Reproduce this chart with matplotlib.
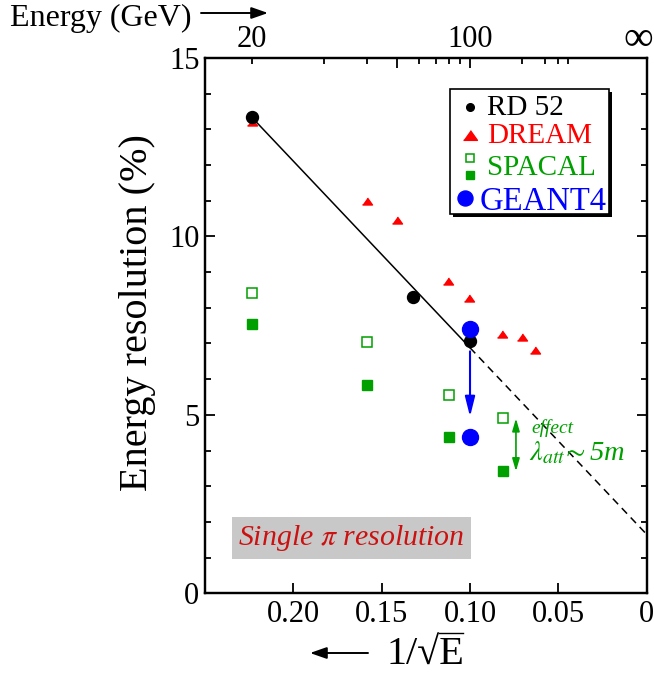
import matplotlib
matplotlib.use("Agg")
import matplotlib.pyplot as plt
import numpy as np
from matplotlib.ticker import MultipleLocator
from matplotlib.patches import Rectangle, FancyArrowPatch
from matplotlib.lines import Line2D
from matplotlib.textpath import TextPath
from matplotlib.font_manager import FontProperties

plt.rcParams["font.family"] = ["Liberation Serif", "DejaVu Serif"]
plt.rcParams["mathtext.fontset"] = "stix"

# data (x = 1/sqrt(E))
rd52_x = [0.2236, 0.1322, 0.1]
rd52_y = [13.35, 8.29, 7.06]

dream_x = [0.2236, 0.1582, 0.1412, 0.1123, 0.1004, 0.0818, 0.0708, 0.0632]
dream_y = [13.2, 11.0, 10.45, 8.76, 8.27, 7.26, 7.18, 6.82]

spacal_x = [0.2236, 0.1581, 0.1118, 0.0816]
spacal_open_y = [8.41, 7.03, 5.56, 4.92]
spacal_filled_y = [7.55, 5.83, 4.39, 3.44]

geant4_x = [0.1, 0.1]
geant4_y = [7.41, 4.39]

# straight line fit through RD52 points
fit_intercept = 1.65
fit_slope = 52.3

top_major_E = [50, 100]
top_minor_E = [20, 30, 40, 60, 70, 80, 90, 200, 300, 400, 500]

bottom_ticks = [0.20, 0.15, 0.10, 0.05, 0.0]
bottom_labels = ["0.20", "0.15", "0.10", "0.05", "0"]

RED = "#ff0000"
GREEN = "#00a000"
BLUE = "#0000ff"

W, H = 654, 674


def fx(px):
    return px / W


def fy(py):
    return 1 - py / H


fig = plt.figure(figsize=(W / 100, H / 100), dpi=100)
ax = fig.add_axes([fx(205), fy(593.3), (646.7 - 205) / W, (593.3 - 58) / H])

tri = [(-1, -0.7), (1, -0.7), (0, 0.7)]

# fit line: solid over data, dashed extrapolation
xs = np.array([0.2236, 0.1])
ax.plot(xs, fit_intercept + fit_slope * xs, color="k", lw=1.1, zorder=2)
xd = np.array([0.1, 0.0])
ax.plot(xd, fit_intercept + fit_slope * xd, color="k", lw=1.1,
        ls=(0, (5, 3.5)), zorder=2)

ax.plot(dream_x, dream_y, ls="none", marker=tri, ms=7.2, color=RED, zorder=3)
ax.plot(spacal_x, spacal_open_y, ls="none", marker="s", ms=6.6, mfc="white",
        mec=GREEN, mew=1.1, zorder=3)
ax.plot(spacal_x, spacal_filled_y, ls="none", marker="s", ms=7.0, color=GREEN,
        zorder=3)
ax.plot(rd52_x, rd52_y, ls="none", marker="o", ms=8.6, color="k", zorder=4)
ax.plot(geant4_x, geant4_y, ls="none", marker="o", ms=11.5, color=BLUE, zorder=5)

# GEANT4 arrow
ax.annotate("", xy=(0.1, 4.95), xytext=(0.1, 6.78),
            arrowprops=dict(arrowstyle="-|>,head_length=1.2,head_width=0.3",
                            mutation_scale=10, color=BLUE, lw=1.5,
                            shrinkA=0, shrinkB=0))

# attenuation effect arrow
ax.annotate("", xy=(0.074, 3.42), xytext=(0.074, 4.9),
            arrowprops=dict(arrowstyle="<|-|>,head_length=0.75,head_width=0.22",
                            mutation_scale=10, color=GREEN, lw=1.2,
                            shrinkA=0, shrinkB=0))
ax.text(0.0655, 4.48, "effect", color=GREEN, fontsize=14, style="italic")
ax.text(0.0665, 3.73, r"$\lambda_{att}\!\sim$5m", color=GREEN, fontsize=20.5,
        style="italic")

ax.text(0.1672, 1.354, r"Single $\pi$ resolution", color="#cc1111",
        fontsize=21.5, style="italic", ha="center", va="baseline",
        bbox=dict(boxstyle="square,pad=0.2", fc="#c8c8c8", ec="none"))

ax.set_xlim(0.25, 0)
ax.set_ylim(0, 15)
ax.set_xticks(bottom_ticks, bottom_labels)
ax.set_yticks([0, 5, 10, 15])
ax.yaxis.set_minor_locator(MultipleLocator(1))
ax.tick_params(axis="x", direction="in", length=7, width=1.3, labelsize=22,
               pad=5)
ax.tick_params(axis="y", which="both", direction="in", left=True, right=True,
               labelsize=22, pad=4, width=1.3)
ax.tick_params(axis="y", which="major", length=7)
ax.tick_params(axis="y", which="minor", length=4.5)
for s in ax.spines.values():
    s.set_linewidth(1.6)

# top energy axis
ax2 = ax.twiny()
ax2.set_xlim(ax.get_xlim())
ax2.set_xticks(1 / np.sqrt(top_major_E), ["", "100"])
ax2.set_xticks(1 / np.sqrt(top_minor_E),
               ["20"] + [""] * (len(top_minor_E) - 1), minor=True)
ax2.tick_params(which="both", direction="in", labelsize=22, pad=3, width=1.3)
ax2.tick_params(which="major", length=7)
ax2.tick_params(which="minor", length=4.5)
for s in ax2.spines.values():
    s.set_linewidth(1.6)
fig.text(fx(638), fy(40), "\u221e", fontsize=30, ha="center", va="center")

# axis titles and arrows
fig.text(fx(138), fy(313), "Energy resolution (%)", fontsize=29,
         rotation=90, ha="center", va="center")

# 1/sqrt(E): plain radical glyph plus an overline over the E
xl_size = 29
xl_x, xl_base = 386, 664
fig.text(fx(xl_x), fy(xl_base), "1/\u221aE", fontsize=xl_size,
         ha="left", va="baseline")
fp = FontProperties(family="Liberation Serif", size=xl_size)
k = 100 / 72
bb_rad = TextPath((0, 0), "1/\u221a", prop=fp).get_extents()
bb_all = TextPath((0, 0), "1/\u221aE", prop=fp).get_extents()
y_bar = xl_base - bb_rad.y1 * k
fig.add_artist(Line2D([fx(xl_x + bb_rad.x1 * k - 0.5), fx(xl_x + bb_all.x1 * k + 1)],
                      [fy(y_bar + 0.6), fy(y_bar + 0.6)],
                      transform=fig.transFigure, color="k", lw=1.0))

fig.text(fx(10), fy(26), "Energy (GeV)", fontsize=23, ha="left",
         va="baseline")
for a, b in [((201, 13), (268, 13)), ((368, 653), (310, 653))]:
    fig.add_artist(FancyArrowPatch((fx(a[0]), fy(a[1])), (fx(b[0]), fy(b[1])),
                                   transform=fig.transFigure,
                                   arrowstyle="-|>,head_length=1.0,head_width=0.35",
                                   mutation_scale=10, color="k", lw=1.4,
                                   shrinkA=0, shrinkB=0))

# legend drawn by hand (xmgrace style with shadow)
lx0, lx1, ly0, ly1 = 450, 609, 89, 214
ax.add_patch(Rectangle((fx(lx0 + 3), fy(ly1 + 3)), fx(lx1) - fx(lx0),
                       fy(ly0) - fy(ly1), transform=fig.transFigure,
                       fc="k", ec="k", lw=0, zorder=8, clip_on=False))
ax.add_patch(Rectangle((fx(lx0), fy(ly1)), fx(lx1) - fx(lx0),
                       fy(ly0) - fy(ly1), transform=fig.transFigure,
                       fc="white", ec="k", lw=1.2, zorder=9, clip_on=False))
leg_kw = dict(transform=fig.transFigure, clip_on=False, zorder=10, ls="none")
ax.plot([fx(470)], [fy(107.3)], marker="o", ms=5.5, color="k", **leg_kw)
ax.plot([fx(470)], [fy(135)], marker=tri, ms=10, color=RED, **leg_kw)
ax.plot([fx(470)], [fy(158.3)], marker="s", ms=5.6, mfc="white", mec=GREEN,
        mew=1.1, **leg_kw)
ax.plot([fx(470)], [fy(175)], marker="s", ms=6.3, color=GREEN, **leg_kw)
ax.plot([fx(465)], [fy(198.3)], marker="o", ms=10.8, color=BLUE, **leg_kw)
leg_rows = [("RD 52", "k", 486.7, 115, 21),
            ("DREAM", RED, 486.7, 143.3, 21),
            ("SPACAL", GREEN, 486.7, 175, 21),
            ("GEANT4", BLUE, 480, 210, 23.5)]
for label, c, x, y, size in leg_rows:
    fig.text(fx(x), fy(y), label, color=c, fontsize=size, va="baseline",
             zorder=10)

fig.savefig("out.png", dpi=100)
